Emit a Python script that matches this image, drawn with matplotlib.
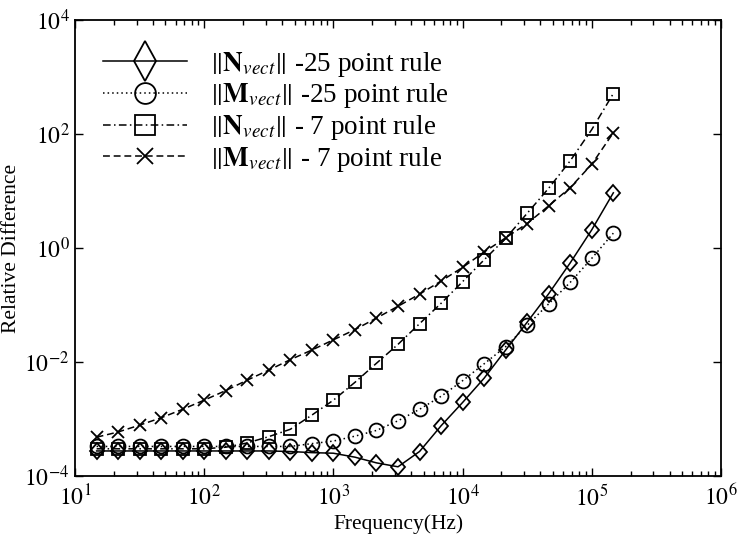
import math
import matplotlib
matplotlib.use("Agg")
import matplotlib.pyplot as plt
from matplotlib.lines import Line2D
from matplotlib.markers import MarkerStyle
from matplotlib.transforms import Affine2D
from matplotlib.ticker import FixedLocator, LogLocator, NullLocator, FuncFormatter

plt.rcParams['font.family'] = ['Liberation Serif', 'DejaVu Serif']
plt.rcParams['mathtext.fontset'] = 'stix'

# ---------------- data ----------------
freq = [14.7, 21.5, 31.6, 46.4, 68.1, 100, 147, 215, 316, 464, 681, 1000,
        1468, 2154, 3162, 4642, 6813, 10000, 14678, 21544, 31623, 46416,
        68129, 100000, 146780]

n_vect_25 = [2.75e-4, 2.75e-4, 2.75e-4, 2.75e-4, 2.75e-4, 2.75e-4, 2.75e-4,
             2.75e-4, 2.75e-4, 2.69e-4, 2.57e-4, 2.51e-4, 2.14e-4, 1.70e-4,
             1.45e-4, 2.69e-4, 7.6e-4, 1.95e-3, 5.2e-3, 1.62e-2, 5.0e-2,
             0.158, 0.55, 2.09, 9.3]

m_vect_25 = [3.3e-4, 3.3e-4, 3.3e-4, 3.3e-4, 3.3e-4, 3.3e-4, 3.3e-4, 3.3e-4,
             3.3e-4, 3.3e-4, 3.7e-4, 4.1e-4, 5.0e-4, 6.3e-4, 9.3e-4, 1.48e-3,
             2.5e-3, 4.7e-3, 9.3e-3, 1.86e-2, 4.4e-2, 0.105, 0.25, 0.66, 1.82]

n_vect_7 = [3.0e-4, 3.0e-4, 3.0e-4, 3.0e-4, 3.0e-4, 3.0e-4, 3.2e-4, 3.8e-4,
            4.9e-4, 6.6e-4, 1.17e-3, 2.14e-3, 4.4e-3, 9.5e-3, 2.04e-2, 4.7e-2,
            0.107, 0.257, 0.62, 1.48, 4.07, 11.2, 33.9, 120, 513]

m_vect_7 = [4.8e-4, 5.9e-4, 7.8e-4, 1.05e-3, 1.48e-3, 2.14e-3, 3.16e-3,
            4.8e-3, 7.2e-3, 1.10e-2, 1.62e-2, 2.45e-2, 3.7e-2, 5.9e-2, 9.5e-2,
            0.155, 0.263, 0.457, 0.85, 1.51, 2.69, 5.5, 11.5, 29.5, 105]

labels = [r'$\left\|\mathbf{N}_{\mathit{vect}}\right\|$ -25 point rule',
          r'$\left\|\mathbf{M}_{\mathit{vect}}\right\|$ -25 point rule',
          r'$\left\|\mathbf{N}_{\mathit{vect}}\right\|$ - 7 point rule',
          r'$\left\|\mathbf{M}_{\mathit{vect}}\right\|$ - 7 point rule']

x_ticks = [1e1, 1e2, 1e3, 1e4, 1e5, 1e6]
y_ticks = [1e-4, 1e-2, 1e0, 1e2, 1e4]

# ---------------- figure ----------------
W, H = 737, 538
fig = plt.figure(figsize=(W / 100, H / 100), dpi=100)
ax = fig.add_axes([75 / W, 62 / H, 646 / W, 456 / H])
ax.set_xscale('log')
ax.set_yscale('log')

diamond = MarkerStyle('D', transform=Affine2D().scale(0.8, 1.0))
lw = 1.1
mew = 1.3
styles = [
    dict(ls='-', marker=diamond, ms=8.6),
    dict(ls=(0, (1, 2.0)), marker='o', ms=10),
    dict(ls=(0, (5, 2.2, 1, 2.2)), marker='s', ms=8),
    dict(ls=(0, (4.5, 2.5)), marker='x', ms=8.5),
]
series = [n_vect_25, m_vect_25, n_vect_7, m_vect_7]
for vals, st in zip(series, styles):
    ax.plot(freq, vals, color='black', lw=lw, ls=st['ls'], marker=st['marker'],
            ms=st['ms'], mfc='none', mec='black', mew=mew)

ax.set_xlim(1e1, 1e6)
ax.set_ylim(1e-4, 1e4)
ax.xaxis.set_major_locator(FixedLocator(x_ticks))
ax.xaxis.set_minor_locator(LogLocator(base=10, subs=range(2, 10), numticks=20))
ax.yaxis.set_major_locator(FixedLocator(y_ticks))
ax.yaxis.set_minor_locator(NullLocator())


def fmt(v, pos):
    e = int(round(math.log10(v)))
    return r'$10^{%d}$' % e


ax.xaxis.set_major_formatter(FuncFormatter(fmt))
ax.yaxis.set_major_formatter(FuncFormatter(fmt))
ax.tick_params(which='both', direction='in', top=True, right=True,
               width=1.0, labelsize=17, colors='black')
ax.tick_params(which='major', length=6)
ax.tick_params(which='minor', length=3.5)
ax.tick_params(axis='x', pad=6)
ax.tick_params(axis='y', pad=4)
for sp in ax.spines.values():
    sp.set_linewidth(1.3)
    sp.set_color('black')

ax.set_xlabel('Frequency(Hz)', fontsize=15.5)
ax.set_ylabel('Relative Difference', fontsize=15.5)
ax.xaxis.set_label_coords(0.5, -0.083)
ax.yaxis.set_label_coords(-0.083, 0.5)

# legend with enlarged proxy markers
leg_styles = [
    dict(ls='-', marker=MarkerStyle('D', transform=Affine2D().scale(0.55, 1.0)), ms=20),
    dict(ls=(0, (1, 2)), marker='o', ms=15),
    dict(ls=(0, (5, 2.2, 1, 2.2)), marker='s', ms=15),
    dict(ls=(0, (4.5, 2.5)), marker='x', ms=11.5),
]
handles = [Line2D([], [], color='black', lw=lw, ls=s['ls'], marker=s['marker'],
                  ms=s['ms'], mfc='none', mec='black', mew=1.3) for s in leg_styles]
ax.legend(handles, labels, loc='upper left', bbox_to_anchor=(0.043, 0.935),
          frameon=False, fontsize=19.5, handlelength=3.1, handletextpad=0.85,
          labelspacing=0.1, borderpad=0, borderaxespad=0)

fig.savefig('out.png', dpi=100)
